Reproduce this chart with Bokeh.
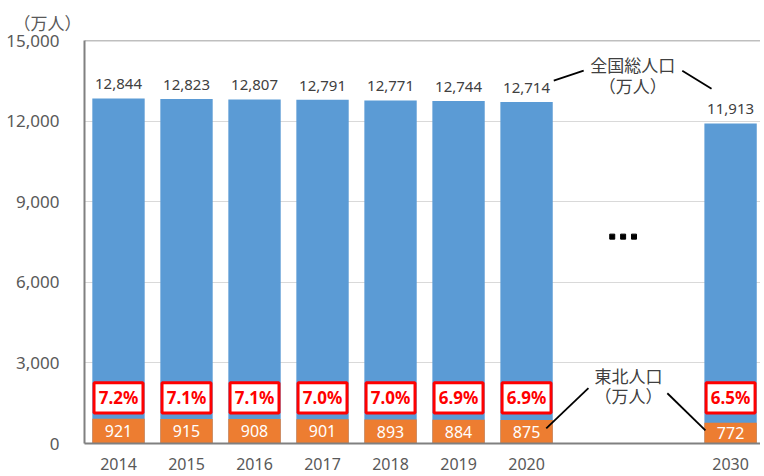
from bokeh.plotting import figure
from bokeh.models import (Range1d, FixedTicker, NumeralTickFormatter, ColumnDataSource,
                          Span, Label)
from bokeh.core.properties import value
from bokeh.embed import file_html
from bokeh.resources import INLINE

# ---- data ----
years = ["2014", "2015", "2016", "2017", "2018", "2019", "2020", "2030"]
slots = [0, 1, 2, 3, 4, 5, 6, 9]          # category slot on the x axis (gap before 2030)
totals = [12844, 12823, 12807, 12791, 12771, 12744, 12714, 11913]   # 全国総人口（万人）
tohoku = [921, 915, 908, 901, 893, 884, 875, 772]                   # 東北人口（万人）
shares = ["7.2%", "7.1%", "7.1%", "7.0%", "7.0%", "6.9%", "6.9%", "6.5%"]
yticks = [0, 3000, 6000, 9000, 12000, 15000]

BLUE = "#5B9BD5"
ORANGE = "#ED7D31"
RED = "#FF0000"
GRAY = "#595959"
DARK = "#404040"
NUM_FONT = "Noto Sans"
JP_FONT = "Noto Sans CJK JP"

src = ColumnDataSource(dict(
    x=slots, year=years, total=totals, tohoku=tohoku,
    tohoku_mid=[v / 2 for v in tohoku],
    total_lbl=[f"{v:,}" for v in totals],
    tohoku_lbl=[str(v) for v in tohoku],
    share=shares,
    box_y=[1700] * len(slots),
))

p = figure(width=760, height=474, output_backend="svg", toolbar_location=None,
           x_range=Range1d(-0.5, 9.44), y_range=Range1d(0, 15000),
           min_border_left=84, min_border_right=0, min_border_top=40, min_border_bottom=31)
p.outline_line_color = None
p.background_fill_color = "white"

# unit label (top-left) as title
p.title.text = "（万人）"
p.title.align = "left"
p.title.offset = -71
p.title.text_font = JP_FONT
p.title.text_font_size = "17px"
p.title.text_font_style = "normal"
p.title.text_color = GRAY
p.title.standoff = 12

# bars
p.vbar(x="x", top="total", bottom=0, width=0.77, source=src, fill_color=BLUE, line_color=None)
p.vbar(x="x", top="tohoku", bottom=0, width=0.77, source=src, fill_color=ORANGE, line_color=None)

# value labels
p.text(x="x", y="total", text="total_lbl", source=src, text_align="center",
       text_baseline="middle", y_offset=-14, text_font=value(NUM_FONT),
       text_font_size="15px", text_color=DARK)
p.text(x="x", y="tohoku_mid", text="tohoku_lbl", source=src, text_align="center",
       text_baseline="middle", text_font=value(NUM_FONT), text_font_size="16px",
       text_color="white")

# share boxes
p.rect(x="x", y="box_y", width=0.72, height=1130, source=src, fill_color="white",
       line_color=RED, line_width=3)
p.text(x="x", y="box_y", text="share", source=src, text_align="center",
       text_baseline="middle", text_font=value(NUM_FONT), text_font_size="17px",
       text_font_style="bold", text_color=RED)

# ellipsis
p.scatter(x=[7.26, 7.42, 7.58], y=[7700] * 3, marker="square", size=5,
          fill_color="black", line_color="black")

# callouts
for (x0, y0, x1, y1) in [(6.40, 13504, 6.84, 13878), (8.29, 13878, 8.72, 13205),
                         (6.29, 561, 6.91, 2058), (8.07, 1870, 8.63, 486)]:
    p.line([x0, x1], [y0, y1], line_color="black", line_width=1.8)

for txt, x, y in [("全国総人口", 7.56, 14103), ("（万人）", 7.56, 13318),
                  ("東北人口", 7.50, 2544), ("（万人）", 7.50, 1796)]:
    p.add_layout(Label(x=x, y=y, text=txt, text_align="center", text_baseline="middle",
                       text_font=JP_FONT, text_font_size="17px", text_color=DARK))

# top border
p.add_layout(Span(location=15000, dimension="width", line_color="#808080", line_width=1.5))

# axes
p.yaxis.ticker = FixedTicker(ticks=yticks)
p.yaxis.formatter = NumeralTickFormatter(format="0,0")
p.yaxis.major_label_text_font = NUM_FONT
p.yaxis.major_label_text_font_size = "17px"
p.yaxis.major_label_text_color = GRAY
p.yaxis.major_tick_line_color = None
p.yaxis.minor_tick_line_color = None
p.yaxis.major_label_standoff = 19
p.yaxis.axis_line_color = "#808080"
p.yaxis.axis_line_width = 2

p.xaxis.ticker = FixedTicker(ticks=slots)
p.xaxis.major_label_overrides = {s: y for s, y in zip(slots, years)}
p.xaxis.major_label_text_font = NUM_FONT
p.xaxis.major_label_text_font_size = "16px"
p.xaxis.major_label_text_color = GRAY
p.xaxis.major_tick_line_color = None
p.xaxis.minor_tick_line_color = None
p.xaxis.major_label_standoff = 8
p.xaxis.axis_line_color = "#808080"
p.xaxis.axis_line_width = 2

p.xgrid.grid_line_color = None
p.ygrid.grid_line_color = "#D9D9D9"
p.ygrid.grid_line_width = 1

open("out.html", "w").write(file_html(p, INLINE))
